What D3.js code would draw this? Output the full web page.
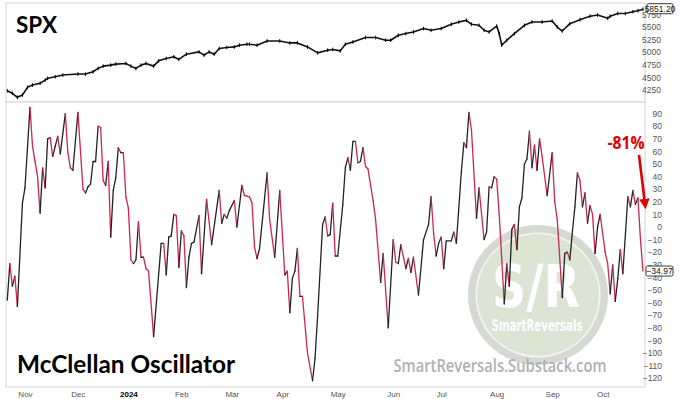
<!DOCTYPE html>
<html><head><meta charset="utf-8">
<script src="https://cdn.jsdelivr.net/npm/d3@7"></script>
<style>
html,body{margin:0;padding:0;background:#fff;}
svg{display:block;font-family:"Liberation Sans",Arial,sans-serif;}
</style></head>
<body><svg id="c" width="680" height="399"></svg>
<script>
// ---- data (trading-day index from Oct 2023 to Oct 22 2024) ----
const spxDay = [0,2,4,6,8,10,13,15,16,19,22,28,31,34,36,38,41,43,47,49,51,53,55,58,60,63,66,68,71,76,78,80,82,84,87,90,92,95,96,99,103,108,112,115,119,123,127,129,132,134,137,142,146,150,152,155,158,161,165,168,172,176,179,182,184,187,189,191,194,195,196,198,201,205,208,212,216,218,220,223,227,231,234,238,239,242,245,248,250,252];
const spxVal = [4236,4185,4106,4151,4303,4349,4382,4447,4481,4513,4546,4566,4566,4611,4678,4723,4743,4763,4776,4723,4678,4743,4776,4723,4828,4875,4908,4856,4960,5005,4940,5005,4960,5072,5092,5104,5138,5157,5157,5138,5222,5222,5183,5183,5104,4986,5039,5053,5025,5157,5203,5289,5289,5236,5236,5335,5368,5400,5467,5433,5467,5552,5597,5630,5552,5532,5433,5400,5517,5368,5138,5236,5368,5532,5597,5597,5617,5498,5419,5565,5644,5713,5736,5670,5713,5766,5766,5801,5822,5851.2];

const oscDay = [0,1,2,3,4,6,7,9,10,11,12,13,14,15,16,17,18,19,20,21,23,24,25,26,28,30,31,32,33,34,35,36,37,38,39,40,41,42,43,44,45,46,47,48,49,50,51,52,53,54,55,56,58,61,62,63,64,65,66,67,68,69,70,71,72,73,74,76,77,79,81,84,85,86,87,88,90,91,93,94,96,97,98,99,100,103,104,106,108,110,111,112,113,114,115,116,117,119,121,122,123,125,126,127,128,129,130,131,133,134,135,136,137,138,139,140,141,142,143,145,146,148,149,151,153,154,155,156,158,159,160,161,163,165,167,168,169,170,171,172,173,174,176,177,178,180,181,182,183,184,186,187,189,190,191,192,193,194,195,197,198,199,200,201,202,203,204,205,206,207,208,209,210,211,212,214,216,217,218,220,221,222,223,224,225,226,227,228,229,230,231,232,233,234,235,237,238,239,240,241,242,243,244,246,247,248,249,250,251,252];
const oscVal = [-58,-29,-47,-39,-63,19,31,95,64,52,40,11,47,31,70,71,56,64,72,58,90,59,47,45,91,30,27,32,34,52,52,80,79,37,33,52,-8,29,39,63,59,59,24,15,-26,-29,-26,4,-24,-24,-33,-35,-87,-13,-13,-38,-8,-7,10,9,-32,-3,-7,-48,-24,-13,-12,9,-37,22,-14,29,3,10,7,13,21,0,33,25,24,19,-16,-25,-17,43,6,-24,29,-38,-35,-68,-41,-35,-17,-55,-55,-100,-122,-104,-71,2,8,-7,-6,19,-23,-23,18,47,55,45,68,68,51,52,63,48,46,21,6,-44,-21,-80,-10,-28,-29,-14,-33,-25,-36,-24,-54,-10,2,24,-5,-23,-13,-8,-33,-11,-11,-4,-13,44,67,63,91,77,7,31,-10,-4,32,31,40,38,10,-61,-29,-47,-2,2,-18,16,23,50,54,76,47,65,45,70,56,25,59,20,6,-56,-21,-20,-26,-4,16,43,37,16,27,3,17,10,-21,0,10,-20,-29,-53,-30,-59,-41,-18,-37,24,16,29,18,23,-10,-34.97];

const monthLabels = ["Nov","Dec","2024","Feb","Mar","Apr","May","Jun","Jul","Aug","Sep","Oct"];
const monthDay    = [7,28,48,69,89,109,131,153,172,194,216,236];
const spxTicks = [4250,4500,4750,5000,5250,5500,5750];
const oscTicks = d3.range(-120, 91, 10);
const spxLast = 5851.20, oscLast = -34.97;

// ---- layout ----
const svg = d3.select("#c");
const L = 6, R = 645;
const top1 = 3, bot1 = 102, top2 = 102, bot2 = 387;
const x = d3.scaleLinear().domain([0, 252]).range([7.3, 643]);
const ySpx = d3.scaleLinear().domain([4250, 5750]).range([90, 14.3]);
const yOsc = d3.scaleLinear().domain([-120, 90]).range([378.2, 113.6]);

// panel frames
svg.append("rect").attr("x",L).attr("y",top1).attr("width",R-L).attr("height",bot1-top1)
  .attr("fill","#fff").attr("stroke","#d4d4d4").attr("stroke-width",1);
svg.append("rect").attr("x",L).attr("y",top2).attr("width",R-L).attr("height",bot2-top2)
  .attr("fill","#fff").attr("stroke","#d4d4d4").attr("stroke-width",1);

// watermark
const wm = svg.append("g").attr("opacity",0.85);
const cx = 538, cy = 295;
wm.append("circle").attr("cx",cx).attr("cy",cy).attr("r",70).attr("fill","#cfd3cb");
wm.append("circle").attr("cx",cx).attr("cy",cy).attr("r",62.5).attr("fill","#f4f6f2");
wm.append("circle").attr("cx",cx).attr("cy",cy).attr("r",61).attr("fill","#d6e1cd");
wm.append("text").attr("x",cx-2).attr("y",307).attr("text-anchor","middle")
  .attr("font-family","'Liberation Sans Narrow','DejaVu Sans Condensed',sans-serif")
  .attr("font-weight","bold").attr("font-size",58).attr("fill","#ffffff")
  .attr("textLength",88).attr("lengthAdjust","spacingAndGlyphs").text("S/R");
wm.append("text").attr("x",cx-1).attr("y",331).attr("text-anchor","middle")
  .attr("font-family","'Liberation Sans Narrow','DejaVu Sans Condensed',sans-serif")
  .attr("font-weight","bold").attr("font-size",16).attr("fill","#ffffff")
  .attr("textLength",91).attr("lengthAdjust","spacingAndGlyphs").text("SmartReversals");
svg.append("text").attr("x",500).attr("y",372).attr("text-anchor","middle")
  .attr("font-family","'Open Sans',sans-serif").attr("font-weight",600)
  .attr("font-size",18).attr("fill","#b0b0b0")
  .attr("textLength",213).attr("lengthAdjust","spacingAndGlyphs")
  .text("SmartReversals.Substack.com");

// SPX line
const spxPts = spxDay.map((d,i)=>[d, spxVal[i]]);
svg.append("path").datum(spxPts)
  .attr("d", d3.line().x(d=>x(d[0])).y(d=>ySpx(d[1])))
  .attr("fill","none").attr("stroke","#111").attr("stroke-width",1.6)
  .attr("stroke-linejoin","round");
svg.append("g").selectAll("line").data(spxPts).join("line")
  .attr("x1",d=>x(d[0])).attr("x2",d=>x(d[0]))
  .attr("y1",d=>ySpx(d[1])-1.8).attr("y2",d=>ySpx(d[1])+1.8)
  .attr("stroke","#000").attr("stroke-width",1);

// Oscillator segments
const segs = [];
for (let i = 0; i < oscDay.length-1; i++) {
  segs.push({a:[oscDay[i],oscVal[i]], b:[oscDay[i+1],oscVal[i+1]], up: oscVal[i+1] >= oscVal[i]});
}
svg.append("g").selectAll("line").data(segs).join("line")
  .attr("x1",d=>x(d.a[0])).attr("y1",d=>yOsc(d.a[1]))
  .attr("x2",d=>x(d.b[0])).attr("y2",d=>yOsc(d.b[1]))
  .attr("stroke",d=>d.up ? "#222222" : "#d0254f")
  .attr("stroke-width",1.3).attr("stroke-linecap","round");

// right axes
const axSpx = svg.append("g").attr("transform",`translate(${R},0)`)
  .call(d3.axisRight(ySpx).tickValues(spxTicks).tickSize(0).tickFormat(d3.format("d")));
const axOsc = svg.append("g").attr("transform",`translate(${R},0)`)
  .call(d3.axisRight(yOsc).tickValues(oscTicks).tickSize(0).tickFormat(d3.format("d")));
[axSpx, axOsc].forEach(a=>{
  a.select(".domain").remove();
  a.selectAll("text").attr("x",17).attr("text-anchor","end")
   .attr("font-size",8.5).attr("fill","#555").attr("font-family","'Liberation Sans',Arial,sans-serif");
});
axSpx.selectAll("text").attr("x",16);

// x axis
const ax = svg.append("g").attr("transform",`translate(0,${bot2})`)
  .call(d3.axisBottom(x).tickValues(monthDay).tickSize(0)
    .tickFormat((d,i)=>monthLabels[i]));
ax.select(".domain").remove();
ax.selectAll("text").attr("y",4).attr("dy","0.71em").attr("font-size",8)
  .attr("fill",(d,i)=>monthLabels[i]==="2024" ? "#000" : "#555")
  .attr("font-weight",(d,i)=>monthLabels[i]==="2024" ? "bold" : "normal")
  .attr("font-family","'Liberation Sans',Arial,sans-serif");

// last value boxes
function valBox(xl, yc, w, txt){
  const g = svg.append("g");
  g.append("rect").attr("x",xl).attr("y",yc-5).attr("width",w).attr("height",10)
    .attr("fill","#fff").attr("stroke","#222").attr("stroke-width",0.9).attr("rx",1.5);
  g.append("text").attr("x",xl+w/2).attr("y",yc+3.2).attr("text-anchor","middle")
    .attr("font-size",8.5).attr("fill","#111").attr("font-family","'Liberation Sans',Arial,sans-serif")
    .text(txt);
}
valBox(647, ySpx(spxLast)-0.5, 26, d3.format(".2f")(spxLast));
valBox(646, yOsc(oscLast), 27, d3.format(".2f")(oscLast));

// titles
svg.append("text").attr("x",16).attr("y",33).attr("font-family","Lato,'Open Sans',sans-serif")
  .attr("font-weight","bold").attr("font-size",22.5).attr("fill","#000")
  .attr("textLength",41).attr("lengthAdjust","spacingAndGlyphs").text("SPX");
svg.append("text").attr("x",17).attr("y",373).attr("font-family","Lato,'Open Sans',sans-serif")
  .attr("font-weight","bold").attr("font-size",25).attr("fill","#000")
  .attr("textLength",218).attr("lengthAdjust","spacingAndGlyphs").text("McClellan Oscillator");

// annotation
svg.append("text").attr("x",626).attr("y",149).attr("text-anchor","middle")
  .attr("font-family","'Open Sans',sans-serif").attr("font-weight","bold")
  .attr("font-size",17).attr("fill","#e00000")
  .attr("textLength",37).attr("lengthAdjust","spacingAndGlyphs").text("-81%");
svg.append("defs").append("marker").attr("id","ah").attr("viewBox","0 0 10 10")
  .attr("refX",5).attr("refY",5).attr("markerWidth",4).attr("markerHeight",4)
  .attr("orient","auto").append("path").attr("d","M0,0 L10,5 L0,10 z").attr("fill","#e00000");
svg.append("line").attr("x1",639).attr("y1",155).attr("x2",645).attr("y2",204)
  .attr("stroke","#e00000").attr("stroke-width",2.6).attr("marker-end","url(#ah)");
</script></body></html>
